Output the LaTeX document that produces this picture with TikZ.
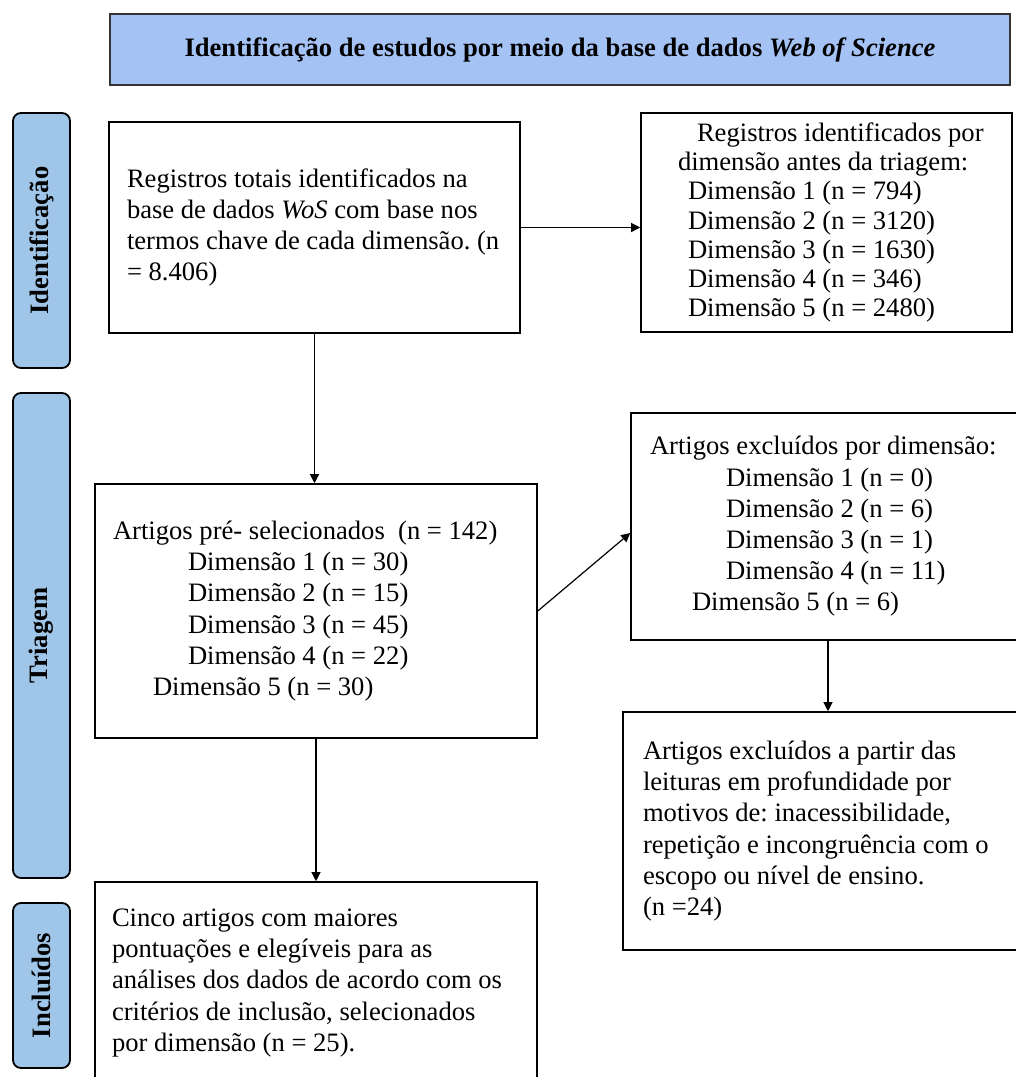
\documentclass[tikz,border=0pt]{standalone}
\usepackage{fontspec}
\setmainfont{Liberation Serif}
\usepackage{xcolor}
\usepackage{tikz}
\usetikzlibrary{arrows.meta}
\definecolor{titlefill}{HTML}{A4C2F4}
\definecolor{stagefill}{HTML}{9FC5E8}
\newcommand{\boxfont}{\fontsize{13.3pt}{15.6pt}\selectfont}
\frenchspacing

\begin{document}
\begin{tikzpicture}[x=0.5pt, y=-0.5pt,
  font=\boxfont,
  blk/.style={draw, line width=0.8pt, align=flush left, inner ysep=0pt},
  stage/.style={draw, line width=0.9pt, rounded corners=4pt, fill=stagefill, rotate=90,
    minimum height=28.5pt, inner sep=0pt, font=\boxfont\bfseries},
  arr/.style={-{Triangle[length=4.5pt, width=4.5pt]}, line width=0.6pt}]
\useasboundingbox (0,0) rectangle (1016,1077);
\clip (0,0) rectangle (1016,1077);
% titulo
\node[blk, draw=black!80, fill=titlefill, minimum width=450pt, minimum height=35.5pt,
  align=center, font=\boxfont\bfseries] (title) at (560,49.5)
  {Identificação de estudos por meio da base de dados \textit{Web of Science}};
% etapas
\node[stage, minimum width=127.5pt] (idlab) at (41.5,240.5) {Identificação};
\node[stage, minimum width=242.5pt] (trilab) at (41.5,635.5) {Triagem};
\node[stage, minimum width=82.5pt] (inclab) at (41.5,985.5) {Incluídos};
% caixas
\node[blk, text width=187.5pt, inner xsep=9pt, minimum height=105.5pt] (regtot) at (314.5,227.5)
  {Registros totais identificados na\\ base de dados \textit{WoS} com base nos\\
   termos chave de cada dimensão. (n\\ = 8.406)};
\node[blk, text width=157.5pt, inner xsep=14pt, minimum height=109.5pt,
  font=\fontsize{13.3pt}{14.6pt}\selectfont] (regdim) at (826.5,222.5)
  {\hspace*{14pt}Registros identificados por\\ \hspace*{4.5pt}dimensão antes da triagem:\\
   \hspace*{9.5pt}Dimensão 1 (n = 794)\\ \hspace*{9.5pt}Dimensão 2 (n = 3120)\\
   \hspace*{9.5pt}Dimensão 3 (n = 1630)\\ \hspace*{9.5pt}Dimensão 4 (n = 346)\\
   \hspace*{9.5pt}Dimensão 5 (n = 2480)};
\node[blk, text width=203pt, inner xsep=9pt, minimum height=127pt] (presel) at (316,611)
  {Artigos pré- selecionados\ \ (n = 142)\\ \hspace*{37.5pt}Dimensão 1 (n = 30)\\
   \hspace*{37.5pt}Dimensão 2 (n = 15)\\ \hspace*{37.5pt}Dimensão 3 (n = 45)\\
   \hspace*{37.5pt}Dimensão 4 (n = 22)\\ \hspace*{20pt}Dimensão 5 (n = 30)};
\node[blk, text width=178pt, inner xsep=9.5pt, minimum height=113.5pt] (excdim) at (828,526.5)
  {Artigos excluídos por dimensão:\\ \hspace*{38pt}Dimensão 1 (n = 0)\\
   \hspace*{38pt}Dimensão 2 (n = 6)\\ \hspace*{38pt}Dimensão 3 (n = 1)\\
   \hspace*{38pt}Dimensão 4 (n = 11)\\ \hspace*{21pt}Dimensão 5 (n = 6)};
\node[blk, text width=185pt, inner xsep=10pt, minimum height=119pt] (excread) at (828,831)
  {Artigos excluídos a partir das\\ leituras em profundidade por\\
   motivos de: inacessibilidade,\\ repetição e incongruência com o\\
   escopo ou nível de ensino.\\ (n =24)};
\node[blk, text width=204pt, inner xsep=8.5pt, minimum height=101pt] (incl) at (316,983)
  {Cinco artigos com maiores\\ pontuações e elegíveis para as\\
   análises dos dados de acordo com os\\ critérios de inclusão, selecionados\\
   por dimensão (n = 25).};
% setas
\draw[arr] (regtot.east) -- (regtot.east -| regdim.west);
\draw[arr] (regtot.south) -- (regtot.south |- presel.north);
\draw[arr] (presel.east) -- ([yshift=-3.25pt]excdim.west);
\draw[arr] (excdim.south) -- (excdim.south |- excread.north);
\draw[arr] (presel.south) -- (presel.south |- incl.north);
\end{tikzpicture}
\end{document}
